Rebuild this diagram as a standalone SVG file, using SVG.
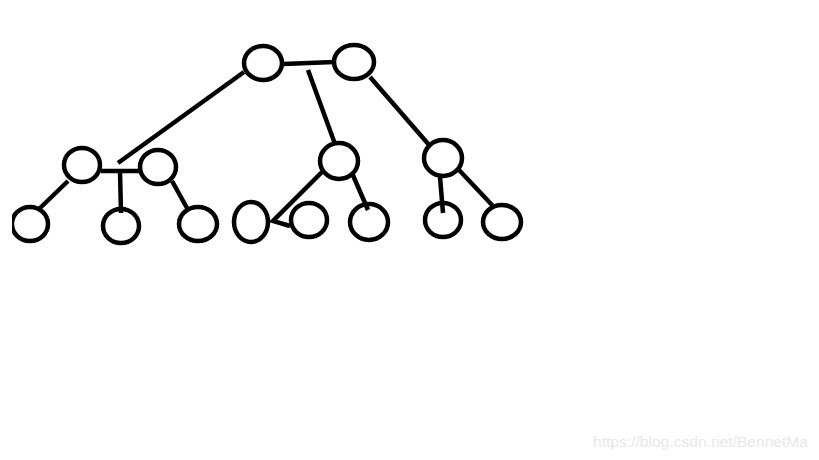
<svg xmlns="http://www.w3.org/2000/svg" width="819" height="460" viewBox="0 0 819 460">
<style>
.n{fill:none;stroke:#000;stroke-width:4.5}
.c line,.c polyline{stroke:#000;stroke-width:4.5;fill:none;stroke-linecap:butt}
.wm{font-family:"Liberation Sans",Arial,sans-serif;font-size:15px;fill:#e8e8e8}
</style>
<defs><clipPath id="clip"><rect x="12" y="0" width="807" height="460"/></clipPath></defs>
<rect width="819" height="460" fill="#fff"/>
<g class="c" id="connectors">
<line x1="283" y1="64" x2="334" y2="62"/>
<line x1="244" y1="72" x2="118" y2="163"/>
<line x1="308" y1="70" x2="335" y2="144"/>
<line x1="370" y1="77" x2="430" y2="146"/>
<line x1="101" y1="171" x2="140" y2="171"/>
<line x1="120" y1="171" x2="121" y2="213"/>
<line x1="68" y1="181" x2="38" y2="210"/>
<line x1="172" y1="181" x2="187" y2="208"/>
<polyline points="324,170 273,221 290,226"/>
<line x1="352" y1="173" x2="368" y2="210"/>
<line x1="440" y1="177" x2="443" y2="213"/>
<line x1="459" y1="170" x2="493" y2="206"/>
</g>
<g id="root-a"><ellipse class="n" cx="263" cy="63" rx="19" ry="17"/></g>
<g id="root-b"><ellipse class="n" cx="354" cy="62" rx="20" ry="17"/></g>
<g id="l-a"><ellipse class="n" cx="82" cy="165" rx="18" ry="17"/></g>
<g id="l-b"><ellipse class="n" cx="158" cy="167" rx="18" ry="17"/></g>
<g id="m"><ellipse class="n" cx="339" cy="161" rx="19" ry="18"/></g>
<g id="r"><ellipse class="n" cx="443" cy="158" rx="19" ry="18"/></g>
<g id="leaf1" clip-path="url(#clip)"><ellipse class="n" cx="30" cy="224" rx="18" ry="17"/></g>
<g id="leaf2"><ellipse class="n" cx="121" cy="226" rx="18" ry="17"/></g>
<g id="leaf3"><ellipse class="n" cx="198" cy="224" rx="19" ry="17"/></g>
<g id="leaf4"><ellipse class="n" cx="251" cy="222" rx="17" ry="20"/></g>
<g id="leaf5"><ellipse class="n" cx="309" cy="220" rx="18" ry="17"/></g>
<g id="leaf6"><ellipse class="n" cx="369" cy="222" rx="19" ry="18"/></g>
<g id="leaf7"><ellipse class="n" cx="443" cy="220" rx="18" ry="17"/></g>
<g id="leaf8"><ellipse class="n" cx="502" cy="222" rx="19" ry="17"/></g>
<text class="wm" x="593" y="447" textLength="215" lengthAdjust="spacingAndGlyphs">https://blog.csdn.net/BennetMa</text>
</svg>
